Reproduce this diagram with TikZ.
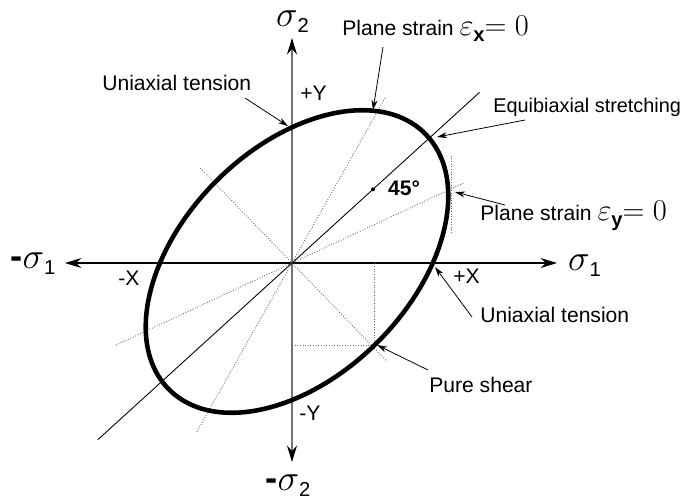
\documentclass[tikz,border=0pt]{standalone}
\usepackage{amsmath}
\usepackage[no-math]{fontspec}
\setmainfont{Liberation Sans}
\usetikzlibrary{arrows.meta}
\newcommand{\lowsub}[1]{\raisebox{-3.5pt}{\fontsize{11.5}{12}\selectfont #1}}

\begin{document}
\begin{tikzpicture}[every node/.style={inner sep=0pt, font=\fontsize{12}{14}\selectfont},
  axis/.style={line width=0.6pt, {Stealth[length=3.3mm,width=2mm,inset=1.1mm,color=black]}-{Stealth[length=3.3mm,width=2mm,inset=1.1mm,color=black]}},
  guide/.style={densely dotted, black!60, line width=0.5pt},
  pointer/.style={-{Stealth[length=2mm,width=1.2mm]}, line width=0.45pt},
  sig/.style={font=\fontsize{20.74}{24}\selectfont, anchor=base},
  lbl/.style={anchor=base west}]
  \useasboundingbox (-5.84,-4.8) rectangle (7.94,5.26);
  \coordinate (o) at (0,0);
  \coordinate (xl) at (-4.54,0);
  \coordinate (xr) at (5.30,0);
  \coordinate (yb) at (0,-3.98);
  \coordinate (yt) at (0,4.50);
  \draw[axis] (xl) -- (xr);
  \draw[axis, black!55, line width=0.8pt] (yb) -- (yt);
  \foreach \ang/\ra/\rb in {25/3.78/3.9, 60.6/3.79/3.88, 134/2.64/2.73} {
    \draw[guide] (\ang:\ra) -- ({\ang+180}:\rb);
  }
  \draw[line width=0.5pt] (42.3:5.07) -- (222.3:5.25);
  \coordinate (sh) at (-45:2.33);
  \draw[guide] (o |- sh) -- (sh) -- (sh |- o);
  \draw[guide] (3.18,0.6) -- (3.18,2.16);
  \draw[line width=2.6pt, rotate around={45:(0.1,0.03)}] (0.1,0.03) ellipse (3.62 and 2.28);
  \fill (42.3:2.19) circle (0.04);
  \node[font=\fontsize{12}{14}\selectfont\bfseries, anchor=base] (ang) at (2.24,1.36) {45°};

  \node[sig] (s2p) at (0.01,4.74) {$\sigma$\lowsub{2}};
  \node[sig] (s2n) at (-0.08,-4.54) {\textbf{-}$\sigma$\lowsub{2}};
  \node[sig] (s1p) at (5.85,-0.14) {$\sigma$\lowsub{1}};
  \node[sig] (s1n) at (-5.18,-0.1) {\textbf{-}$\sigma$\lowsub{1}};
  \node[anchor=base] (yp) at (0.43,3.26) {+Y};
  \node[anchor=base] (yn) at (0.36,-3.14) {-Y};
  \node[anchor=base] (xp) at (3.49,-0.4) {+X};
  \node[anchor=base] (xn) at (-3.26,-0.44) {-X};

  \node[lbl] (ut1) at (-3.8,3.46) {Uniaxial tension};
  \node[lbl] (psx) at (1.0,4.56) {Plane strain {\fontsize{17.28}{20}\selectfont$\varepsilon$\lowsub{\bfseries x}$=0$}};
  \node[lbl, font=\fontsize{11.3}{14}\selectfont] (eqb) at (4.02,3.02) {Equibiaxial stretching};
  \node[lbl] (psy) at (3.76,0.86) {Plane strain {\fontsize{17.28}{20}\selectfont$\varepsilon$\lowsub{\bfseries y}$=0$}};
  \node[lbl] (ut2) at (3.76,-1.18) {Uniaxial tension};
  \node[lbl] (shr) at (2.74,-2.58) {Pure shear};

  \coordinate (pt1) at (-0.08,2.74);
  \coordinate (pt2) at (1.62,3.06);
  \coordinate (pt3) at (2.9,2.52);
  \coordinate (pt4) at (3.26,1.42);
  \coordinate (pt5) at (2.86,-0.08);
  \coordinate (pt6) at (1.7,-1.64);
  \draw[pointer] ([shift={(2.86,-0.16)}]ut1.base west) -- (pt1);
  \draw[pointer] ([shift={(0.82,-0.24)}]psx.base west) -- (pt2);
  \draw[pointer] ([shift={(0.64,-0.16)}]eqb.base west) -- (pt3);
  \draw[pointer] ([shift={(0.5,0.3)}]psy.base west) -- (pt4);
  \draw[pointer] ([shift={(-0.16,0.1)}]ut2.base west) -- (pt5);
  \draw[pointer] ([shift={(-0.02,0.44)}]shr.base west) -- (pt6);
\end{tikzpicture}
\end{document}
